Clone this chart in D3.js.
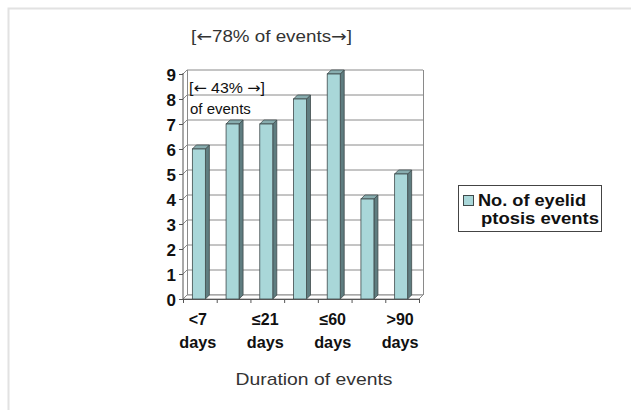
<!DOCTYPE html>
<html>
<head>
<meta charset="utf-8">
<script src="https://cdn.jsdelivr.net/npm/d3@7"></script>
<style>
  body { margin: 0; background: #fff; }
  svg { display: block; font-family: "Liberation Sans", Arial, sans-serif; }
</style>
</head>
<body>
<svg width="631" height="410"></svg>
<script>
// durations (only every other one is labelled on the axis)
var categories = ["<7 days", "≤14 days", "≤21 days", "≤30 days", "≤60 days", "≤90 days", ">90 days"];
var shownLabels = [["<7", "days"], null, ["≤21", "days"], null, ["≤60", "days"], null, [">90", "days"]];
var events = [6, 7, 7, 8, 9, 4, 5];
var yTicks = [0, 1, 2, 3, 4, 5, 6, 7, 8, 9];
var seriesName = ["No. of eyelid", "ptosis events"];

var svg = d3.select("svg");

// light frame round the figure
svg.append("path")
    .attr("d", "M8.5,410 V8.5 H631")
    .style("fill", "none").style("stroke", "#e2e2e2").style("stroke-width", 2);

var depth = 4; // 3d offset of the back wall
var x = d3.scaleBand().domain(categories).range([183, 419]).paddingInner(0).paddingOuter(0);
var y = d3.scaleLinear().domain([0, 9]).range([299, 74]);

var g = svg.append("g");

// back wall + gridlines
g.selectAll("line.grid").data(yTicks).enter().append("line")
    .attr("class", "grid")
    .attr("x1", 183 + depth).attr("x2", 419 + depth)
    .attr("y1", function (d) { return y(d) - depth; })
    .attr("y2", function (d) { return y(d) - depth; })
    .style("stroke", "#8a8a8a").style("stroke-width", 1);

g.append("line")
    .attr("x1", 419 + depth + 0.5).attr("x2", 419 + depth + 0.5)
    .attr("y1", y(9) - depth).attr("y2", y(0) - depth)
    .style("stroke", "#8a8a8a");
g.append("line")
    .attr("x1", 183 + depth + 0.5).attr("x2", 183 + depth + 0.5)
    .attr("y1", y(9) - depth).attr("y2", y(0) - depth)
    .style("stroke", "#8a8a8a");

// side wall diagonals
g.selectAll("line.side").data(yTicks).enter().append("line")
    .attr("class", "side")
    .attr("x1", 183).attr("x2", 183 + depth)
    .attr("y1", function (d) { return y(d); })
    .attr("y2", function (d) { return y(d) - depth; })
    .style("stroke", "#8a8a8a");

// floor
g.append("path")
    .attr("d", "M183," + y(0) + " L" + (183 + depth) + "," + (y(0) - depth) + " H" + (419 + depth) +
        " L419," + y(0) + " Z")
    .style("fill", "#fff").style("stroke", "#8a8a8a");

// bars
var barW = 13;
var bars = g.selectAll("g.bar").data(events).enter().append("g").attr("class", "bar");
function bx(d, i) { return x(categories[i]) + x.bandwidth() / 2 - barW / 2 - 1; }

bars.append("path") // side
    .attr("d", function (d, i) {
        var x0 = bx(d, i) + barW;
        return "M" + x0 + "," + y(d) + " L" + (x0 + depth) + "," + (y(d) - depth) +
            " V" + (y(0) - depth) + " L" + x0 + "," + y(0) + " Z";
    })
    .style("fill", "#5f7d80").style("stroke", "#3f4a4b").style("stroke-width", 0.8);
bars.append("path") // top
    .attr("d", function (d, i) {
        var x0 = bx(d, i);
        return "M" + x0 + "," + y(d) + " L" + (x0 + depth) + "," + (y(d) - depth) +
            " H" + (x0 + barW + depth) + " L" + (x0 + barW) + "," + y(d) + " Z";
    })
    .style("fill", "#88adaf").style("stroke", "#3f4a4b").style("stroke-width", 0.8);
bars.append("rect") // front
    .attr("x", bx)
    .attr("y", function (d) { return y(d); })
    .attr("width", barW)
    .attr("height", function (d) { return y(0) - y(d); })
    .style("fill", "#a9d7d9").style("stroke", "#3f4a4b").style("stroke-width", 0.8);

// axes
var yAxis = d3.axisLeft(y).tickValues(yTicks).tickSize(4).tickPadding(3);
var ya = svg.append("g").attr("transform", "translate(183,0)").call(yAxis);
ya.select(".domain").attr("d", "M0," + y(0) + "V" + (y(9) - 1)).style("stroke", "#555");
ya.selectAll(".tick line").style("stroke", "#555");
ya.selectAll(".tick text")
    .style("font-family", "'Liberation Sans', Arial, sans-serif")
    .style("font-size", "17px").style("font-weight", "bold").style("fill", "#111")
    .attr("dy", "0.36em");

var xa = svg.append("g").attr("transform", "translate(0," + y(0) + ")");
xa.append("line").attr("x1", 183).attr("x2", 419).attr("y1", 0.5).attr("y2", 0.5).style("stroke", "#555");
xa.selectAll("line.xt").data(categories.concat(["end"])).enter().append("line")
    .attr("class", "xt")
    .attr("x1", function (d, i) { return i < categories.length ? x(d) + 0.5 : 419.5; })
    .attr("x2", function (d, i) { return i < categories.length ? x(d) + 0.5 : 419.5; })
    .attr("y1", 0).attr("y2", 4)
    .style("stroke", "#555");

var lab = svg.selectAll("text.xl").data(categories).enter()
    .filter(function (d, i) { return shownLabels[i]; })
    .append("text").attr("class", "xl")
    .attr("text-anchor", "middle")
    .style("font-size", "16px").style("font-weight", "bold").style("fill", "#111");
lab.each(function (d) {
    var i = categories.indexOf(d);
    var cx = x(d) + x.bandwidth() / 2 - 2;
    var t = d3.select(this);
    t.append("tspan").attr("x", cx).attr("y", 325).attr("textLength", 36).attr("lengthAdjust", "spacingAndGlyphs").text(shownLabels[i][0]);
    t.append("tspan").attr("x", cx).attr("y", 348).attr("textLength", 37).attr("lengthAdjust", "spacingAndGlyphs").text(shownLabels[i][1]);
});
lab.selectAll("tspan:first-child").attr("textLength", null);

// annotations, arrows taken from DejaVu for their longer shafts
function arrowText(sel, parts) {
    parts.forEach(function (p) {
        var s = sel.append("tspan").text(p);
        if (p === "←" || p === "→") s.style("font-family", "'DejaVu Sans', sans-serif");
    });
}
var t1 = svg.append("text").attr("x", 191).attr("y", 42)
    .attr("textLength", 161).attr("lengthAdjust", "spacingAndGlyphs")
    .style("font-size", "16px").style("fill", "#333");
arrowText(t1, ["[", "←", "78% of events", "→", "]"]);

var t2 = svg.append("text").attr("x", 189).attr("y", 93)
    .attr("textLength", 76).attr("lengthAdjust", "spacingAndGlyphs")
    .style("font-size", "15px").style("fill", "#111");
arrowText(t2, ["[", "←", " 43% ", "→", "]"]);
svg.append("text").attr("x", 190).attr("y", 114)
    .style("font-size", "15px").style("fill", "#111").text("of events");

svg.append("text").attr("x", 314).attr("y", 385).attr("text-anchor", "middle")
    .attr("textLength", 157).attr("lengthAdjust", "spacingAndGlyphs")
    .style("font-size", "17px").style("fill", "#333").text("Duration of events");

// legend
var lg = svg.append("g");
lg.append("rect").attr("x", 458.5).attr("y", 185.5).attr("width", 143).attr("height", 46)
    .style("fill", "#fff").style("stroke", "#444");
lg.append("rect").attr("x", 463.5).attr("y", 195.5).attr("width", 10).attr("height", 10)
    .style("fill", "#a9d7d9").style("stroke", "#3f4a4b");
lg.selectAll("text").data(seriesName).enter().append("text")
    .attr("x", function (d, i) { return i ? 481 : 478; })
    .attr("y", function (d, i) { return i ? 224 : 206; })
    .attr("textLength", function (d, i) { return i ? 118 : 108; })
    .attr("lengthAdjust", "spacingAndGlyphs")
    .style("font-size", "16px").style("font-weight", "bold").style("fill", "#111")
    .text(function (d) { return d; });
</script>
</body>
</html>
